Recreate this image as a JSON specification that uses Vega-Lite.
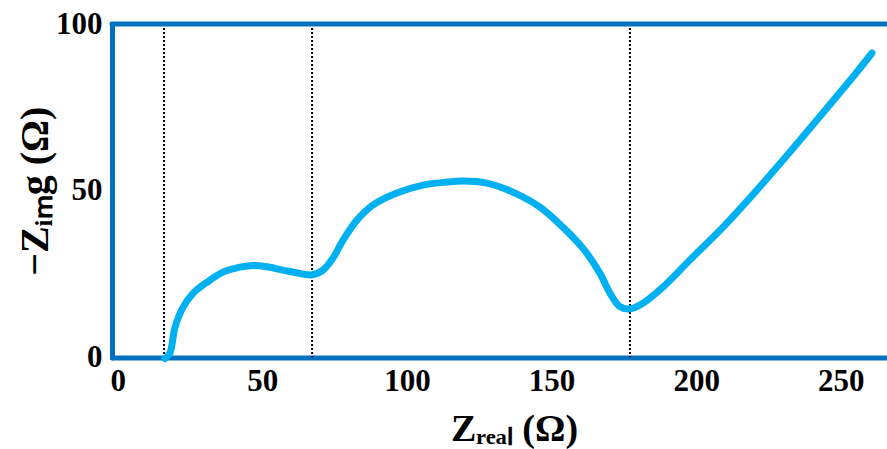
{
  "$schema": "https://vega.github.io/schema/vega-lite/v6.json",
  "width": 775,
  "height": 333.5,
  "autosize": "none",
  "padding": {"left": 112, "top": 24, "right": 0, "bottom": 91.5},
  "background": "white",
  "config": {"view": {"stroke": null}},
  "datasets": {
    "curve": [
      {"zreal": 16.3, "zimg": -0.3},
      {"zreal": 18.0, "zimg": 1.3},
      {"zreal": 19.8, "zimg": 9.1},
      {"zreal": 22.6, "zimg": 15.1},
      {"zreal": 26.1, "zimg": 19.3},
      {"zreal": 30.9, "zimg": 22.6},
      {"zreal": 36.4, "zimg": 25.6},
      {"zreal": 42.3, "zimg": 27.1},
      {"zreal": 46.8, "zimg": 27.6},
      {"zreal": 51.6, "zimg": 27.2},
      {"zreal": 57.1, "zimg": 26.2},
      {"zreal": 63.0, "zimg": 25.2},
      {"zreal": 67.2, "zimg": 24.8},
      {"zreal": 71.0, "zimg": 26.2},
      {"zreal": 74.4, "zimg": 29.8},
      {"zreal": 77.9, "zimg": 35.2},
      {"zreal": 82.7, "zimg": 41.2},
      {"zreal": 88.2, "zimg": 45.7},
      {"zreal": 96.5, "zimg": 49.3},
      {"zreal": 105.5, "zimg": 51.7},
      {"zreal": 113.8, "zimg": 52.6},
      {"zreal": 119.4, "zimg": 52.9},
      {"zreal": 127.6, "zimg": 52.3},
      {"zreal": 136.6, "zimg": 49.6},
      {"zreal": 146.0, "zimg": 45.1},
      {"zreal": 153.9, "zimg": 39.1},
      {"zreal": 160.8, "zimg": 32.8},
      {"zreal": 166.7, "zimg": 25.3},
      {"zreal": 170.2, "zimg": 19.3},
      {"zreal": 173.6, "zimg": 15.3},
      {"zreal": 177.1, "zimg": 14.6},
      {"zreal": 181.6, "zimg": 16.3},
      {"zreal": 188.5, "zimg": 21.1},
      {"zreal": 197.8, "zimg": 29.2},
      {"zreal": 209.3, "zimg": 39.1},
      {"zreal": 221.0, "zimg": 50.2},
      {"zreal": 232.4, "zimg": 61.6},
      {"zreal": 243.8, "zimg": 73.3},
      {"zreal": 255.6, "zimg": 85.6},
      {"zreal": 260.8, "zimg": 91.3}
    ],
    "markers": [
      {"zreal": 16.0},
      {"zreal": 67.2},
      {"zreal": 177.1}
    ],
    "topline": [
      {"zimg": 100}
    ]
  },
  "layer": [
    {
      "data": {"name": "markers"},
      "mark": {"type": "rule", "color": "black", "strokeWidth": 2, "strokeDash": [2, 2]},
      "encoding": {
        "x": {"field": "zreal", "type": "quantitative"}
      }
    },
    {
      "data": {"name": "curve"},
      "mark": {"type": "line", "color": "#00B0F0", "strokeWidth": 7, "strokeCap": "round", "strokeJoin": "round", "interpolate": "catmull-rom", "clip": false},
      "encoding": {
        "x": {
          "field": "zreal", "type": "quantitative",
          "scale": {"domain": [-2, 266], "nice": false, "zero": false},
          "axis": {
            "title": "Zᵣₑₐₗ (Ω)",
            "values": [0, 50, 100, 150, 200, 250],
            "grid": false, "ticks": false, "tickSize": 0,
            "domainColor": "#0070C0", "domainWidth": 5, "domainCap": "round",
            "labelFont": "Liberation Serif", "labelFontWeight": "bold", "labelFontSize": 31, "labelColor": "black",
            "labelPadding": 9, "labelFlush": false, "labelOverlap": false,
            "titleFont": "Liberation Serif", "titleFontWeight": "bold", "titleFontSize": 38, "titleColor": "black",
            "titleX": 402, "titleY": 83, "titleBaseline": "alphabetic"
          }
        },
        "y": {
          "field": "zimg", "type": "quantitative",
          "scale": {"domain": [0, 100], "nice": false},
          "axis": {
            "title": "−Zᵢₘg (Ω)",
            "values": [0, 50, 100],
            "grid": false, "ticks": false, "tickSize": 0,
            "domainColor": "#0070C0", "domainWidth": 5, "domainCap": "round",
            "labelFont": "Liberation Serif", "labelFontWeight": "bold", "labelFontSize": 31, "labelColor": "black",
            "labelPadding": 10, "labelFlush": false, "labelOverlap": false,
            "titleFont": "Liberation Serif", "titleFontWeight": "bold", "titleFontSize": 40, "titleColor": "black",
            "titleX": -65, "titleBaseline": "alphabetic"
          }
        }
      }
    },
    {
      "data": {"name": "topline"},
      "mark": {"type": "rule", "color": "#0070C0", "strokeWidth": 5, "strokeCap": "round"},
      "encoding": {"y": {"field": "zimg", "type": "quantitative"}}
    }
  ]
}
